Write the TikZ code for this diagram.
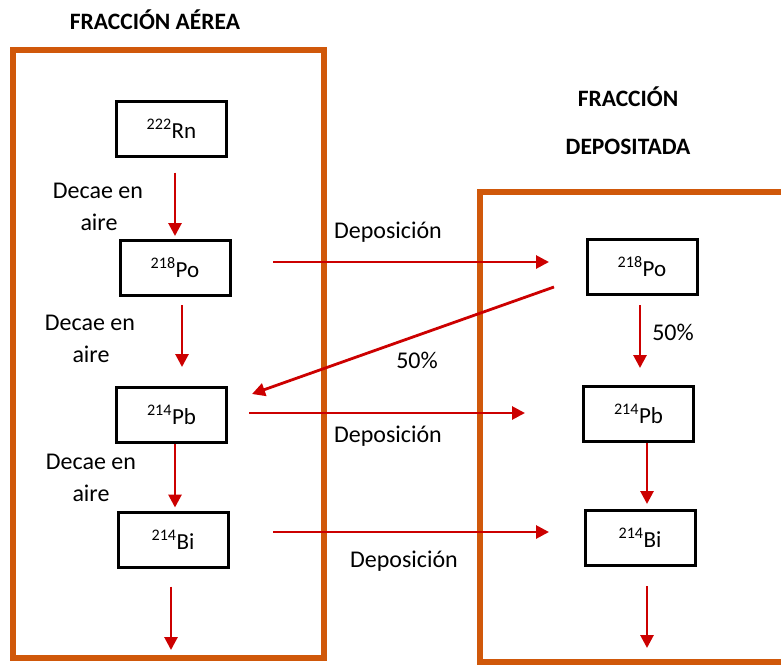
\documentclass[tikz,border=0pt]{standalone}
\usepackage{fontspec}
\setmainfont{Carlito}
\usetikzlibrary{arrows.meta}
\definecolor{frameorange}{RGB}{208,88,10}
\definecolor{arrred}{RGB}{204,0,0}
\tikzset{
  frame/.style={draw=frameorange, line width=6pt},
  nuc/.style={draw=black, line width=3pt, minimum width=110pt, minimum height=55pt, inner sep=0pt, font=\fontsize{23}{26}\selectfont},
  arr/.style={draw=arrred, line width=2.8pt, -{Triangle[length=13pt,width=13pt]}},
  lbl/.style={font=\fontsize{24}{27}\selectfont, inner sep=0pt},
  ttl/.style={font=\fontsize{23.5}{27}\selectfont\bfseries, inner sep=0pt}
}
\begin{document}
\begin{tikzpicture}[x=1pt,y=-1pt]
\useasboundingbox (0,0) rectangle (781,664);
% frames
\draw[frame] (13,50) rectangle (323.5,658);
\draw[frame] (800,191.5) -- (479.5,191.5) -- (479.5,661.5) -- (800,661.5);
% titles
\node[ttl] (t1) at (155,20) {FRACCIÓN AÉREA};
\node[ttl] (t2) at (628,97) {FRACCIÓN};
\node[ttl] (t3) at (628,147) {DEPOSITADA};
% nuclide boxes
\node[nuc] (rn) at (171.5,128.5) {\textsuperscript{222}Rn};
\node[nuc] (po1) at (175,268) {\textsuperscript{218}Po};
\node[nuc] (pb1) at (171.5,415) {\textsuperscript{214}Pb};
\node[nuc] (bi1) at (173,539.5) {\textsuperscript{214}Bi};
\node[nuc] (po2) at (642,267) {\textsuperscript{218}Po};
\node[nuc] (pb2) at (638.5,414) {\textsuperscript{214}Pb};
\node[nuc] (bi2) at (640,538) {\textsuperscript{214}Bi};
\coordinate (end1) at (171,650);
\coordinate (end2) at (647,648);
% vertical arrows
\draw[arr, shorten <=15pt, shorten >=3pt] (po1.north |- rn.south) -- (po1.north);
\draw[arr, shorten <=8pt, shorten >=19pt] ([xshift=7pt]po1.south) -- ([xshift=10.5pt]pb1.north);
\draw[arr, shorten <=0pt, shorten >=3pt] ([xshift=3.5pt]pb1.south) -- ([xshift=2pt]bi1.north);
\draw[arr, shorten <=18pt] ([xshift=-2pt]bi1.south) -- (end1);
\draw[arr, shorten <=9pt, shorten >=17pt] ([xshift=-2pt]po2.south) -- ([xshift=1.5pt]pb2.north);
\draw[arr, shorten <=0pt, shorten >=5pt] ([xshift=8.5pt]pb2.south) -- ([xshift=7pt]bi2.north);
\draw[arr, shorten <=19pt] ([xshift=7pt]bi2.south) -- (end2);
% horizontal / diagonal arrows
\draw[arr] ([xshift=41.5pt,yshift=6pt]po1.east) -- ([xshift=-36.5pt,yshift=5pt]po2.west);
\draw[arr] ([xshift=-31.5pt,yshift=-20pt]po2.west) -- ([xshift=24pt,yshift=21pt]pb1.east);
\draw[arr] ([xshift=21pt,yshift=2pt]pb1.east) -- ([xshift=-57pt,yshift=1pt]pb2.west);
\draw[arr] ([xshift=43.5pt,yshift=7.5pt]bi1.east) -- ([xshift=-34.5pt,yshift=6pt]bi2.west);
% labels
\node[lbl] (d1a) at (98,191) {Decae en};
\node[lbl] (d1b) at (99,222) {aire};
\node[lbl] (d2a) at (90,323) {Decae en};
\node[lbl] (d2b) at (91,354) {aire};
\node[lbl] (d3a) at (91,462) {Decae en};
\node[lbl] (d3b) at (91,493) {aire};
\node[lbl] (dep1) at (388,232) {Deposición};
\node[lbl] (dep2) at (388,436) {Deposición};
\node[lbl] (dep3) at (404,561) {Deposición};
\node[lbl] (p1) at (417,360) {50\%};
\node[lbl] (p2) at (673,332) {50\%};
\end{tikzpicture}
\end{document}
